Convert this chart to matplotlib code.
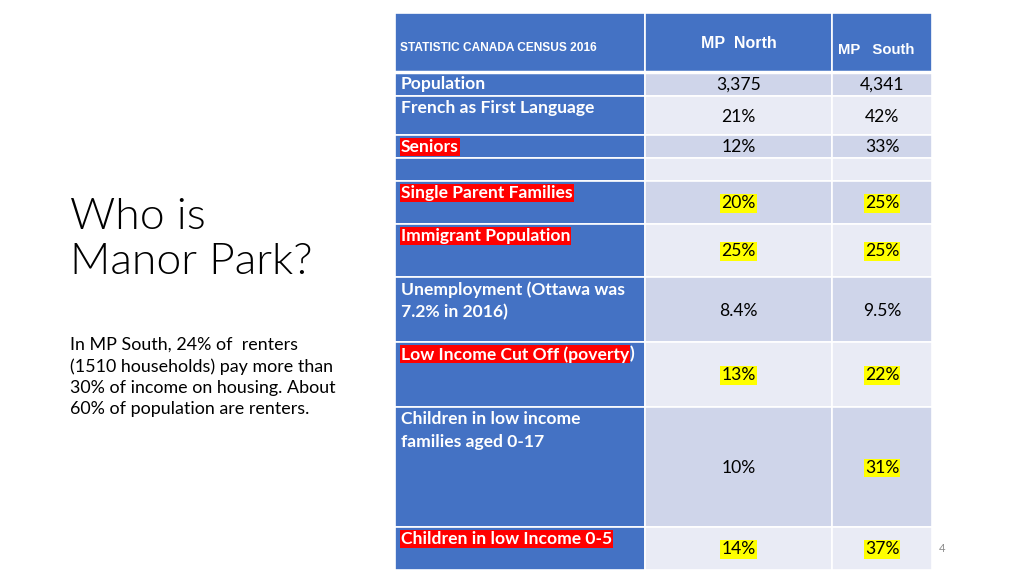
import matplotlib.pyplot as plt
from matplotlib.patches import Rectangle

# table content
header_title = "STATISTIC CANADA CENSUS 2016"
col_names = ["MP  North", "MP   South"]
labels = ["Population", "French as First Language", "Seniors", "",
          "Single Parent Families", "Immigrant Population",
          "Unemployment (Ottawa was\n7.2% in 2016)",
          "Low Income Cut Off (poverty)",
          "Children in low income\nfamilies aged 0-17",
          "Children in low Income 0-5"]
north = ["3,375", "21%", "12%", "", "20%", "25%", "8.4%", "13%", "10%", "14%"]
south = ["4,341", "42%", "33%", "", "25%", "25%", "9.5%", "22%", "31%", "37%"]
red_label = [False, False, True, False, True, True, False, True, False, True]
yellow_north = [False, False, False, False, True, True, False, True, False, True]
yellow_south = [False, False, False, False, True, True, False, True, True, True]

side_title = "Who is\nManor Park?"
side_note = ("In MP South, 24% of  renters\n(1510 households) pay more than\n"
             "30% of income on housing. About\n60% of population are renters.")

# layout in pixel units
col_x = [395, 645, 832, 932]
row_y = [13, 72, 96, 135, 158, 181, 224, 277, 342, 407, 527, 570]
blue = "#4472C4"
dark = "#CFD5EA"
light = "#E9EBF5"

fig = plt.figure(figsize=(10.24, 5.76), dpi=100)
ax = fig.add_axes([0, 0, 1, 1])
ax.set_xlim(0, 1024)
ax.set_ylim(576, 0)
ax.axis("off")

# header row
for c in range(3):
    ax.add_patch(Rectangle((col_x[c], row_y[0]), col_x[c + 1] - col_x[c], row_y[1] - row_y[0],
                           facecolor=blue, edgecolor="white", lw=1.2))
ax.plot([col_x[0], col_x[3]], [row_y[1], row_y[1]], color="white", lw=2.5)
ax.text(400, 48, header_title, color="white", fontsize=8.6, fontweight="bold",
        family="Liberation Sans", va="center", ha="left")
ax.text((col_x[1] + col_x[2]) / 2, 43, col_names[0], color="white", fontsize=11.5,
        fontweight="bold", family="Liberation Sans", va="center", ha="center")
ax.text(838, 50, col_names[1], color="white", fontsize=10.7,
        fontweight="bold", family="Liberation Sans", va="center", ha="left")

# body rows
for i, lab in enumerate(labels):
    top, bot = row_y[i + 1], row_y[i + 2]
    h = bot - top
    shade = dark if i % 2 == 0 else light
    ax.add_patch(Rectangle((col_x[0], top), col_x[1] - col_x[0], h,
                           facecolor=blue, edgecolor="white", lw=1.2))
    for c in (1, 2):
        ax.add_patch(Rectangle((col_x[c], top), col_x[c + 1] - col_x[c], h,
                               facecolor=shade, edgecolor="white", lw=1.2))
    if lab:
        box = None
        txt = lab
        tail = ""
        if red_label[i]:
            box = dict(facecolor="#FF0000", edgecolor="none", pad=0.6)
            if txt.endswith(")") and "(" in txt and "\n" not in txt:
                txt, tail = txt[:-1], ")"
        t = ax.text(401, top + 4, txt, color="white", fontsize=12.6, fontweight="bold",
                    family="Lato", va="top", ha="left", linespacing=1.5, bbox=box)
        if tail:
            ax.annotate(tail, xy=(1, 0), xycoords=t, color="white", fontsize=12.6,
                        fontweight="bold", family="Lato", va="bottom", ha="left")
    cy = (top + bot) / 2 + 1
    for c, vals, yl in ((1, north, yellow_north), (2, south, yellow_south)):
        if vals[i]:
            box = dict(facecolor="#FFFF00", edgecolor="none", pad=0.8) if yl[i] else None
            ax.text((col_x[c] + col_x[c + 1]) / 2, cy, vals[i], color="black", fontsize=12.6,
                    family="Lato", va="center", ha="center", bbox=box)

# left side text
ax.text(70, 240, side_title, fontsize=32, family="Lato", fontweight=300,
        color="black", va="center", ha="left", linespacing=1.2)
ax.text(70, 377, side_note, fontsize=12.9, family="Lato", color="black",
        va="center", ha="left", linespacing=1.4)

# slide number
ax.text(942, 548, "4", fontsize=8, family="Lato", color="#8C8C8C", va="center", ha="center")

fig.savefig("out.png", dpi=100)
